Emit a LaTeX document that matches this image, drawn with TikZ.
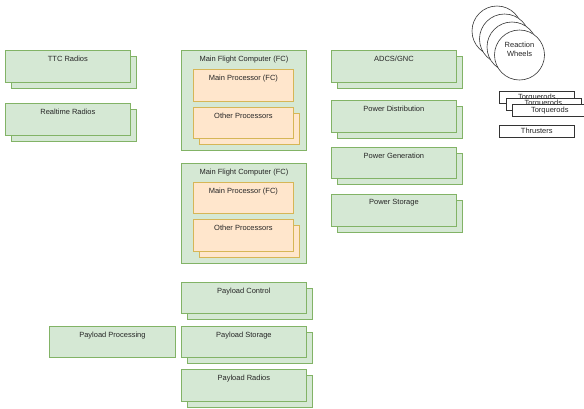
\documentclass[tikz,border=0pt]{standalone}
\usepackage{fontspec}
\setmainfont{Liberation Sans}
\usetikzlibrary{shadows}
\definecolor{grnfill}{HTML}{D5E8D4}
\definecolor{grnline}{HTML}{82B366}
\definecolor{orgfill}{HTML}{FFE6CC}
\definecolor{orgline}{HTML}{D6B656}
\begin{document}
\begin{tikzpicture}[x=1pt,y=-1pt,
	every node/.style={font=\fontsize{7.5}{9}\selectfont,text=black!85},
	every label/.style={inner sep=0pt,anchor=north,yshift=-5.5pt},
	box/.style={draw=grnline,fill=grnfill,line width=0.8pt,anchor=north west,inner sep=0pt,minimum width=125pt,minimum height=32pt,label={north:#1}},
	stack/.style={box=#1,copy shadow={shadow xshift=6pt,shadow yshift=-6pt}},
	cpu/.style={box=#1,draw=orgline,fill=orgfill,minimum width=100pt},
	cpus/.style={cpu=#1,copy shadow={shadow xshift=6pt,shadow yshift=-6pt}},
	part/.style={draw=black!80,fill=white,line width=0.6pt,anchor=north west,inner sep=0pt,minimum width=75pt,minimum height=12pt},
	wheel/.style={draw=black!80,fill=white,line width=0.6pt,circle,inner sep=0pt,minimum size=50pt}]
	\useasboundingbox (0,0) rectangle (584,408);
	% left column
	\node[stack=TTC Radios] (ttc) at (5,50) {};
	\node[stack=Realtime Radios] (rt) at (5,103) {};
	\node[box=Payload Processing,minimum width=126pt,minimum height=31pt] (pproc) at (49,326) {};
	% flight computers
	\node[box={Main Flight Computer (FC)},minimum height=100pt] (fc1) at (181,50) {};
	\node[cpu={Main Processor (FC)}] (mp1) at (193,69) {};
	\node[cpus=Other Processors,minimum height=31pt] (op1) at (193,107) {};
	\node[box={Main Flight Computer (FC)},minimum height=100pt] (fc2) at (181,163) {};
	\node[cpu={Main Processor (FC)},minimum height=31pt] (mp2) at (193,182) {};
	\node[cpus=Other Processors] (op2) at (193,219) {};
	% payload
	\node[stack=Payload Control,minimum height=31pt] (pctl) at (181,282) {};
	\node[stack=Payload Storage,minimum height=31pt] (pstg) at (181,326) {};
	\node[stack=Payload Radios] (prad) at (181,369) {};
	% bus
	\node[stack=ADCS/GNC] (adcs) at (331,50) {};
	\node[stack=Power Distribution] (pdist) at (331,100) {};
	\node[stack=Power Generation,minimum height=31pt] (pgen) at (331,147) {};
	\node[stack=Power Storage] (pstor) at (331,194) {};
	% actuators
	\node[wheel] (rw3) at (497,31) {};
	\node[wheel] (rw2) at (504.5,39) {};
	\node[wheel] (rw1) at (512,47) {};
	\node[wheel] (rw) at (519.5,55) {};
	\node[align=center,inner sep=0pt] (rwt) at (519.5,49.5) {Reaction\\Wheels};
	\node[part] (tq3) at (499,91) {Torquerods};
	\node[part] (tq2) at (505.5,97.5) {Torquerods};
	\node[part] (tq) at (512,104) {Torquerods};
	\node[part] (thr) at (499,125) {Thrusters};
\end{tikzpicture}
\end{document}
